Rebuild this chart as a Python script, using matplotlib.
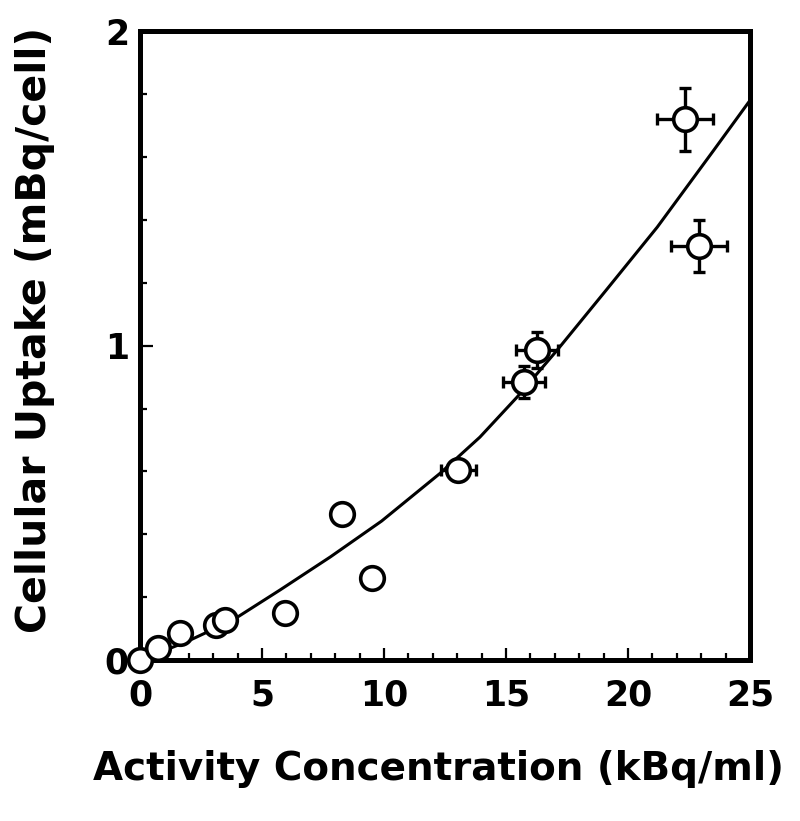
import numpy as np
import matplotlib.pyplot as plt
from matplotlib.ticker import MultipleLocator

# measured points: activity concentration (kBq/ml) vs cellular uptake (mBq/cell)
conc = [0.0, 0.75, 1.64, 3.1, 3.5, 5.94, 8.28, 9.5, 13.05, 15.74, 16.27, 22.34, 22.9]
uptake = [0.0, 0.04, 0.085, 0.11, 0.127, 0.15, 0.464, 0.26, 0.604, 0.884, 0.986, 1.72, 1.316]
conc_err = [0, 0, 0, 0, 0, 0, 0, 0, 0.7, 0.85, 0.85, 1.15, 1.15]
uptake_err = [0, 0, 0, 0, 0, 0, 0, 0, 0.03, 0.05, 0.057, 0.10, 0.083]

# fitted curve
fit_x = [0, 1.9, 3.8, 5.74, 7.8, 9.9, 12.3, 13.93, 15.45, 17.1, 19.1, 21.2, 23.5, 25]
fit_y = [0, 0.058, 0.127, 0.223, 0.328, 0.442, 0.594, 0.709, 0.836, 0.986, 1.176, 1.377, 1.62, 1.78]

plt.rcParams['font.family'] = ['DejaVu Sans']
plt.rcParams['font.weight'] = 'bold'

fig = plt.figure(figsize=(8, 8.21), dpi=100)
ax = fig.add_axes([0.175, 0.196, 0.7625, 0.766])

ax.plot(fit_x, fit_y, color='black', lw=2.2, zorder=2)
ax.errorbar(conc, uptake, xerr=conc_err, yerr=uptake_err, fmt='none',
            ecolor='black', elinewidth=2.4, capsize=4, capthick=2.4, zorder=3)
ax.plot(conc, uptake, 'o', ms=17, mfc='white', mec='black', mew=2.6,
        zorder=4, clip_on=False)

ax.set_xlim(0, 25)
ax.set_ylim(0, 2)
ax.xaxis.set_major_locator(MultipleLocator(5))
ax.xaxis.set_minor_locator(MultipleLocator(1))
ax.yaxis.set_major_locator(MultipleLocator(1))
ax.yaxis.set_minor_locator(MultipleLocator(0.2))
ax.tick_params(which='both', direction='in', width=1.6, top=False, right=False)
ax.tick_params(which='major', length=9, labelsize=25)
ax.tick_params(axis='x', which='major', pad=13)
ax.tick_params(axis='y', which='major', pad=8)
ax.tick_params(which='minor', length=5)
for lab in ax.get_xticklabels() + ax.get_yticklabels():
    lab.set_fontweight('bold')

for s in ax.spines.values():
    s.set_linewidth(3.6)

ax.set_xlabel('Activity Concentration (kBq/ml)', fontsize=28, fontweight='bold')
ax.set_ylabel('Cellular Uptake (mBq/cell)', fontsize=29.5, fontweight='bold')
ax.xaxis.set_label_coords(0.489, -0.143)
ax.yaxis.set_label_coords(-0.14, 0.525)

fig.savefig('out.png', dpi=100)
